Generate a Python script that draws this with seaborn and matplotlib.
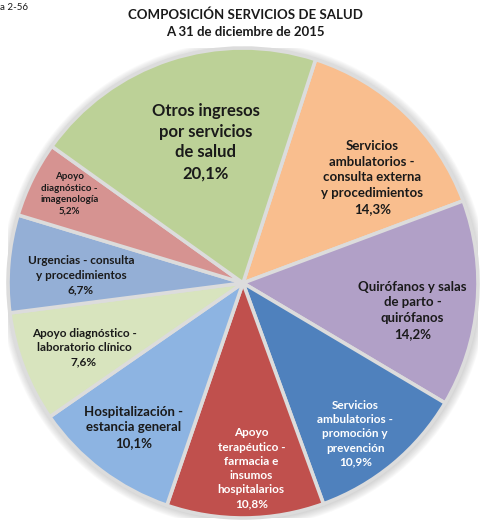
import numpy as np
import matplotlib
matplotlib.use("Agg")
import matplotlib.pyplot as plt
import seaborn as sns

# Service categories, clockwise from the top
categories = [
    "Servicios\nambulatorios -\nconsulta externa\ny procedimientos",
    "Quirófanos y salas\nde parto -\nquirófanos",
    "Servicios\nambulatorios -\npromoción y\nprevención",
    "Apoyo\nterapéutico -\nfarmacia e\ninsumos\nhospitalarios",
    "Hospitalización -\nestancia general",
    "Apoyo diagnóstico -\nlaboratorio clínico",
    "Urgencias - consulta\ny procedimientos",
    "Apoyo\ndiagnóstico -\nimagenología",
    "Otros ingresos\npor servicios\nde salud",
]
shares = [14.3, 14.2, 10.9, 10.8, 10.1, 7.6, 6.7, 5.2, 20.1]

slice_colors = ["#F9BE8E", "#B1A0C7", "#4F81BD", "#C0504D", "#8DB4E2",
                "#D8E4BE", "#94AFD6", "#D69391", "#BCD197"]

# Label styling per slice: radial position, angular nudge (deg), size, colour
label_radius = [0.71, 0.73, 0.80, 0.79, 0.77, 0.73, 0.69, 0.83, 0.62]
label_nudge = [-7, -4, -3, 2, 0, 1, 2, -1, -3.5]
label_size = [9.5, 9.5, 8.5, 8.5, 9.5, 8.5, 8.5, 7, 12]
label_color = ["#1a1a1a", "#1a1a1a", "white", "white", "#1a1a1a",
               "#1a1a1a", "#1a1a1a", "#1a1a1a", "#1a1a1a"]

sns.set_theme(style="white")
plt.rcParams["font.family"] = ["Lato", "DejaVu Sans"]

W, H = 482, 527
fig = plt.figure(figsize=(W / 100, H / 100), dpi=100)
fig.patch.set_facecolor("white")

cx, cy, R = 243, H - 283, 235
ax = fig.add_axes([(cx - R) / W, (cy - R) / H, 2 * R / W, 2 * R / H])

# soft shadow around the disc
for k in range(8, 0, -1):
    ax.add_patch(plt.Circle((0.004, -0.006), 1 + k * 0.0045,
                            color="#808080", alpha=0.045, lw=0, zorder=0))

palette = sns.color_palette(slice_colors)
wedges, _ = ax.pie(shares, colors=palette, startangle=72, counterclock=False,
                   radius=1.0,
                   wedgeprops=dict(edgecolor="#DCDCDC", linewidth=2.6))
for w in wedges:
    w.set_zorder(2)

for w, name, v, r, nudge, fs, col in zip(wedges, categories, shares,
                                          label_radius, label_nudge,
                                          label_size, label_color):
    mid = np.deg2rad((w.theta1 + w.theta2) / 2 + nudge)
    x, y = r * np.cos(mid), r * np.sin(mid)
    pct = f"{v:.1f}".replace(".", ",") + "%"
    ax.text(x, y, f"{name}\n{pct}", ha="center", va="center",
            fontsize=fs, fontweight="bold", color=col, linespacing=1.36,
            zorder=5)

ax.set_xlim(-1, 1)
ax.set_ylim(-1, 1)
ax.set_aspect("equal")
ax.axis("off")

fig.text(245 / W, 1 - 15 / H, "COMPOSICIÓN SERVICIOS DE SALUD",
         ha="center", va="center", fontsize=9.5, fontweight="bold",
         color="#1a1a1a")
fig.text(245 / W, 1 - 32 / H, "A 31 de diciembre de 2015",
         ha="center", va="center", fontsize=9.5, fontweight="bold",
         color="#1a1a1a")
fig.text(0, 1 - 8 / H, "a 2-56", ha="left", va="center", fontsize=7,
         color="#1a1a1a")

fig.savefig("out.png", dpi=100, facecolor="white")
